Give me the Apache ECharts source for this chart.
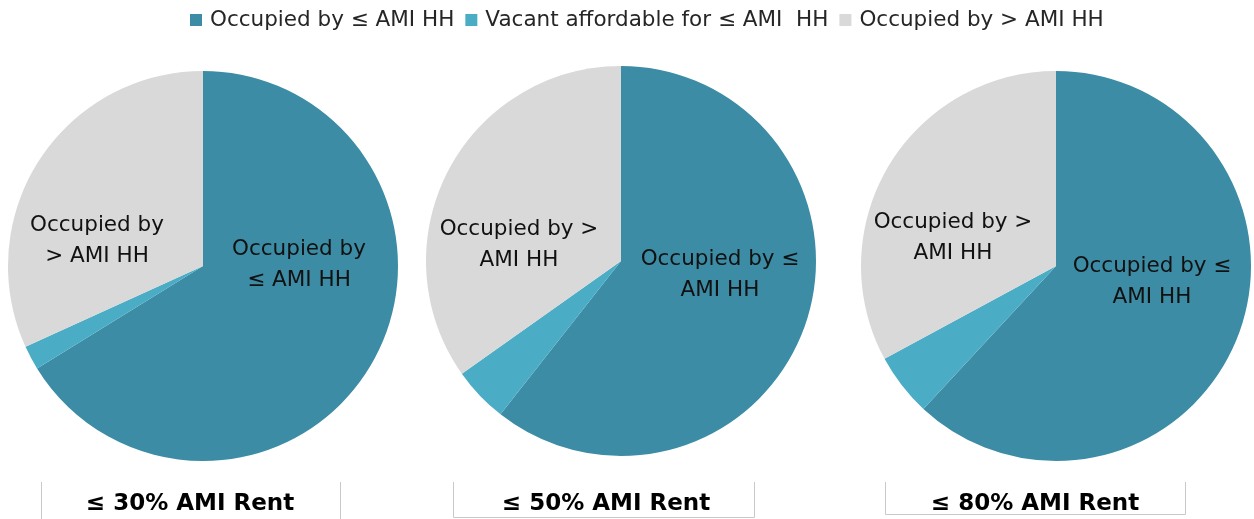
<!DOCTYPE html>
<html>
<head>
<meta charset="utf-8">
<script src="https://cdn.jsdelivr.net/npm/echarts@6/dist/echarts.min.js"></script>
<style>
  html, body { margin: 0; padding: 0; background: #fff; }
  #charts { width: 1254px; height: 519px; }
</style>
</head>
<body>
<div id="charts"></div>
<script>
// categories and values (percent of units)
var categories = ['Occupied by ≤ AMI HH', 'Vacant affordable for ≤ AMI  HH', 'Occupied by > AMI HH'];
var values30 = [66.2, 2.0, 31.8];
var values50 = [60.6, 4.6, 34.8];
var values80 = [61.9, 5.2, 32.9];
var pieTitles = ['≤ 30% AMI Rent', '≤ 50% AMI Rent', '≤ 80% AMI Rent'];
// slice labels as they wrap in each pie (no label on the vacant slice)
var labels30 = ['Occupied by\n≤ AMI HH', '', 'Occupied by\n> AMI HH'];
var labels50 = ['Occupied by ≤\nAMI HH', '', 'Occupied by >\nAMI HH'];
var labels80 = ['Occupied by ≤\nAMI HH', '', 'Occupied by >\nAMI HH'];

var colors = ['#3C8CA5', '#4BACC6', '#D9D9D9'];
var font = 'DejaVu Sans';

// pie layout
var centers = [[203, 266], [621, 261], [1056, 266]];
var radius = 195;
// label centre offsets from pie centre, per pie and slice
var labelOffsets = [
    [[96, -1], null, [-106, -25]],
    [[99, 14], null, [-102, -16]],
    [[96, 16], null, [-103, -28]]
];

var allValues = [values30, values50, values80];
var allLabels = [labels30, labels50, labels80];

function makeSeries(k) {
    return {
        type: 'pie',
        center: centers[k],
        radius: radius,
        startAngle: 90,
        clockwise: true,
        animation: false,
        silent: true,
        label: {
            show: true,
            position: 'inside',
            fontFamily: font,
            fontSize: 21.5,
            lineHeight: 31,
            color: '#111',
            align: 'center',
            formatter: function (p) { return allLabels[k][p.dataIndex]; }
        },
        labelLine: { show: false },
        labelLayout: function (p) {
            var off = labelOffsets[k][p.dataIndex];
            if (!off) return {};
            var r = p.labelRect;
            return {
                dx: centers[k][0] + off[0] - (r.x + r.width / 2),
                dy: centers[k][1] + off[1] - (r.y + r.height / 2)
            };
        },
        data: categories.map(function (c, i) {
            return { name: c, value: allValues[k][i], itemStyle: { color: colors[i] } };
        })
    };
}

var myChart = echarts.init(document.getElementById('charts'));

var titleLefts = [190, 606, 1035];
var option = {
    color: colors,
    legend: {
        top: 4,
        left: 185,
        itemWidth: 12,
        itemHeight: 12,
        itemGap: 11,
        icon: 'rect',
        selectedMode: false,
        textStyle: { fontFamily: font, fontSize: 21.5, color: '#262626', padding: [0, 0, 0, 3] },
        data: categories
    },
    title: pieTitles.map(function (t, k) {
        return {
            text: t,
            left: titleLefts[k],
            top: 493,
            padding: 0,
            textAlign: 'center',
            textStyle: { fontFamily: font, fontSize: 23, fontWeight: 'bold', color: '#000' }
        };
    }),
    graphic: [
        { type: 'line', shape: { x1: 41.5, y1: 482, x2: 41.5, y2: 519 }, style: { stroke: '#C8C8C8', lineWidth: 1 } },
        { type: 'line', shape: { x1: 340.5, y1: 482, x2: 340.5, y2: 519 }, style: { stroke: '#C8C8C8', lineWidth: 1 } },
        { type: 'polyline', shape: { points: [[453.5, 482], [453.5, 517.5], [754.5, 517.5], [754.5, 482]] }, style: { stroke: '#C8C8C8', lineWidth: 1, fill: null } },
        { type: 'polyline', shape: { points: [[885.5, 482], [885.5, 514.5], [1185.5, 514.5], [1185.5, 482]] }, style: { stroke: '#C8C8C8', lineWidth: 1, fill: null } }
    ],
    series: [makeSeries(0), makeSeries(1), makeSeries(2)]
};

myChart.setOption(option);
window.addEventListener('resize', function () {
    myChart.resize();
});
</script>
</body>
</html>
